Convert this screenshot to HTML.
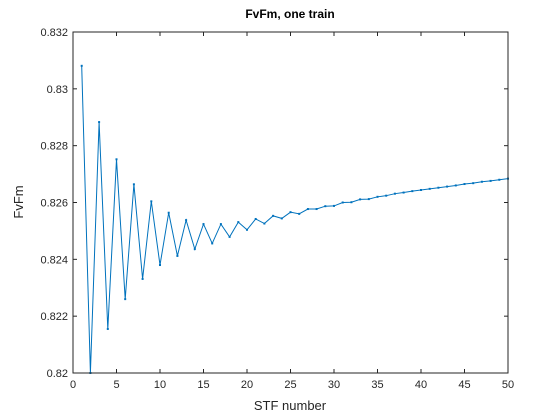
<!DOCTYPE html>
<html><head><meta charset="utf-8"><style>
body{margin:0;background:#fff;}
svg{display:block;font-family:"Liberation Sans",sans-serif;}
</style></head><body>
<svg id="chart" width="560" height="420">
<rect width="560" height="420" fill="#fff"/>
<rect x="73" y="32" width="435" height="341" fill="#fff"/>
<g id="grid"></g>
<polyline id="line" fill="none" stroke="#0072BD" stroke-width="1"/>
<g id="pts"></g>
<rect x="73" y="32" width="435" height="341" fill="none" stroke="#262626" stroke-width="1"/>
<text x="290" y="18" text-anchor="middle" font-weight="bold" font-size="12" fill="#000">FvFm, one train</text>
<text x="290" y="410" text-anchor="middle" font-size="13" fill="#262626">STF number</text>
<text transform="translate(23,202) rotate(-90)" text-anchor="middle" font-size="13" fill="#262626">FvFm</text>
</svg>
<script>
const xTicks=[0,5,10,15,20,25,30,35,40,45,50];
const yTicks=[0.820,0.822,0.824,0.826,0.828,0.830,0.832];
const stf=[];for(let i=1;i<=50;i++)stf.push(i);
const fvfm=[0.83081,0.8200,0.82883,0.82155,0.82752,0.82260,0.82664,0.82331,0.82604,0.82380,
0.82564,0.82412,0.82538,0.82436,0.82524,0.82456,0.82524,0.82479,0.82531,0.82504,
0.82542,0.82526,0.82553,0.82544,0.82566,0.82560,0.82577,0.82577,0.82587,0.82588,
0.82600,0.82601,0.82611,0.82612,0.82620,0.82624,0.82631,0.82635,0.82640,0.82644,
0.82648,0.82652,0.82656,0.82660,0.82665,0.82668,0.82673,0.82676,0.82680,0.82684];
const L=73,R=508,T=32,B=373;
const xs=v=>L+(v-0)/(50-0)*(R-L);
const ys=v=>B-(v-0.820)/(0.832-0.820)*(B-T);
const NS='http://www.w3.org/2000/svg';
const g=document.getElementById('grid');
function mk(tag,attrs,parent){const e=document.createElementNS(NS,tag);for(const k in attrs)e.setAttribute(k,attrs[k]);parent.appendChild(e);return e;}
xTicks.forEach(t=>{
  const x=xs(t);
  const a=mk('line',{x1:x,x2:x,y1:B,y2:B-4,stroke:'#262626'},g);
  
  
  const b=mk('line',{x1:x,x2:x,y1:T,y2:T+4,stroke:'#262626'},g);
  
  
  const tx=mk('text',{x:x,y:B+15,'text-anchor':'middle','font-size':'11',fill:'#262626'},g);
  tx.textContent=t;
  
  
});
yTicks.forEach(t=>{
  const y=ys(t);
  const a=mk('line',{x1:L,x2:L+4,y1:y,y2:y,stroke:'#262626'},g);
  
  
  const b=mk('line',{x1:R,x2:R-4,y1:y,y2:y,stroke:'#262626'},g);
  
  
  const tx=mk('text',{x:L-5,y:y+4,'text-anchor':'end','font-size':'11',fill:'#262626'},g);
  tx.textContent=(t===0.82)?'0.82':(t===0.83?'0.83':t.toFixed(3));
  
  
});
document.getElementById('line').setAttribute('points',stf.map((s,i)=>xs(s)+','+ys(fvfm[i])).join(' '));
const pg=document.getElementById('pts');
stf.forEach((s,i)=>{
  const c=mk('rect',{x:xs(s)-1,y:ys(fvfm[i])-1,width:2,height:2,fill:'#0072BD'},pg);
  
  
});
</script>
</body></html>
